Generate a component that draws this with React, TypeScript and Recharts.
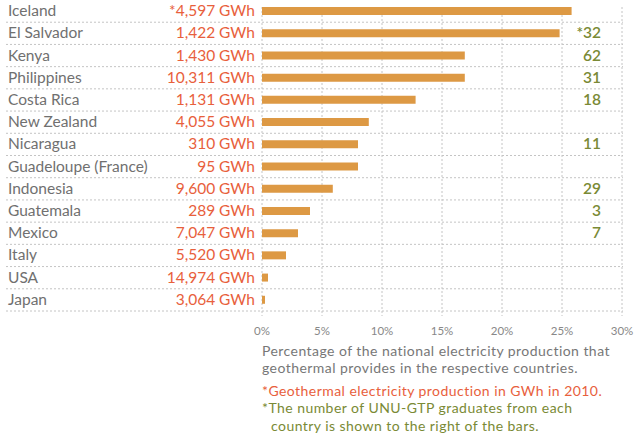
import React from 'react';
import { BarChart, Bar, XAxis, YAxis, CartesianGrid } from 'recharts';

const countries = ['Iceland', 'El Salvador', 'Kenya', 'Philippines', 'Costa Rica', 'New Zealand', 'Nicaragua', 'Guadeloupe (France)', 'Indonesia', 'Guatemala', 'Mexico', 'Italy', 'USA', 'Japan'];
const percentGeothermal = [25.8, 24.8, 16.9, 16.9, 12.8, 8.9, 8.0, 8.0, 5.9, 4.0, 3.0, 2.0, 0.5, 0.25];
const gwhLabels = ['*4,597 GWh', '1,422 GWh', '1,430 GWh', '10,311 GWh', '1,131 GWh', '4,055 GWh', '310 GWh', '95 GWh', '9,600 GWh', '289 GWh', '7,047 GWh', '5,520 GWh', '14,974 GWh', '3,064 GWh'];
const graduates = ['', '*32', '62', '31', '18', '', '11', '', '29', '3', '7', '', '', ''];
const xTicks = [0, 5, 10, 15, 20, 25, 30];

const data = countries.map((c, i) => ({ country: c, pct: percentGeothermal[i], gwh: gwhLabels[i], grad: graduates[i] }));

const FONT = 'Lato, sans-serif';
const GRAY = '#707070';
const ORANGE = '#e8603c';
const GREEN = '#7a8a35';
const BAR = '#dd9944';
const GRID = '#c4c4c4';

const LeftTick = (props: any) => {
  const { x, y, payload } = props;
  const i = countries.indexOf(payload.value);
  return (
    <g>
      <text x={8} y={y} dy={5} fill={GRAY} fontSize={15.5} fontFamily={FONT} textAnchor="start">{payload.value}</text>
      <text x={x + 1} y={y} dy={5} fill={ORANGE} fontSize={15.5} fontFamily={FONT} textAnchor="end">{gwhLabels[i]}</text>
    </g>
  );
};

const RightTick = (props: any) => {
  const { x, y, payload } = props;
  const i = countries.indexOf(payload.value);
  return (
    <text x={x - 29} y={y} dy={5} fill={GREEN} fontSize={15.5} fontWeight={600} fontFamily={FONT} textAnchor="end">{graduates[i]}</text>
  );
};

const noteStyle = (top: number, color: string, lineHeight: number): React.CSSProperties => ({
  position: 'absolute',
  top,
  left: 262,
  color,
  fontFamily: FONT,
  fontSize: 14,
  letterSpacing: 0.45,
  lineHeight: `${lineHeight}px`,
  whiteSpace: 'nowrap',
});

export default function App() {
  return (
    <div style={{ position: 'absolute', left: 0, top: 0, width: 639, height: 440, background: '#fff' }}>
      <BarChart width={639} height={440} data={data} layout="vertical" margin={{ top: 0, right: 16, left: 0, bottom: 0 }}>
        <CartesianGrid
          yAxisId="left"
          vertical={false}
          x={6}
          width={617}
          stroke={GRID}
          strokeDasharray="2 2"
          horizontalCoordinatesGenerator={({ offset }: any) =>
            countries.map((_, i) => offset.top + ((i + 1) * offset.height) / countries.length)
          }
        />
        <CartesianGrid yAxisId="left" horizontal={false} y={7} height={309} stroke={GRID} strokeDasharray="2 2" />
        <XAxis
          type="number"
          domain={[0, 30]}
          ticks={xTicks}
          tickFormatter={(v: number) => `${v}%`}
          axisLine={false}
          tickLine={false}
          tickMargin={10}
          height={129}
          tick={{ fill: '#888', fontSize: 11.5, fontFamily: FONT }}
          interval={0}
        />
        <YAxis yAxisId="left" type="category" dataKey="country" width={262} axisLine={false} tickLine={false} tick={<LeftTick />} interval={0} />
        <YAxis yAxisId="right" orientation="right" type="category" dataKey="country" width={1} axisLine={false} tickLine={false} tick={<RightTick />} interval={0} />
        <Bar yAxisId="left" dataKey="pct" fill={BAR} barSize={8} isAnimationActive={false} />
        <Bar yAxisId="right" dataKey="pct" fill={BAR} fillOpacity={0} barSize={8} isAnimationActive={false} />
      </BarChart>
      <div style={noteStyle(342, '#777', 17)}>
        Percentage of the national electricity production that<br />geothermal provides in the respective countries.
      </div>
      <div style={noteStyle(382, ORANGE, 17)}>*Geothermal electricity production in GWh in 2010.</div>
      <div style={noteStyle(399, GREEN, 18)}>
        *The number of UNU-GTP graduates from each<br /><span style={{ paddingLeft: 9 }}>country is shown to the right of the bars.</span>
      </div>
    </div>
  );
}
